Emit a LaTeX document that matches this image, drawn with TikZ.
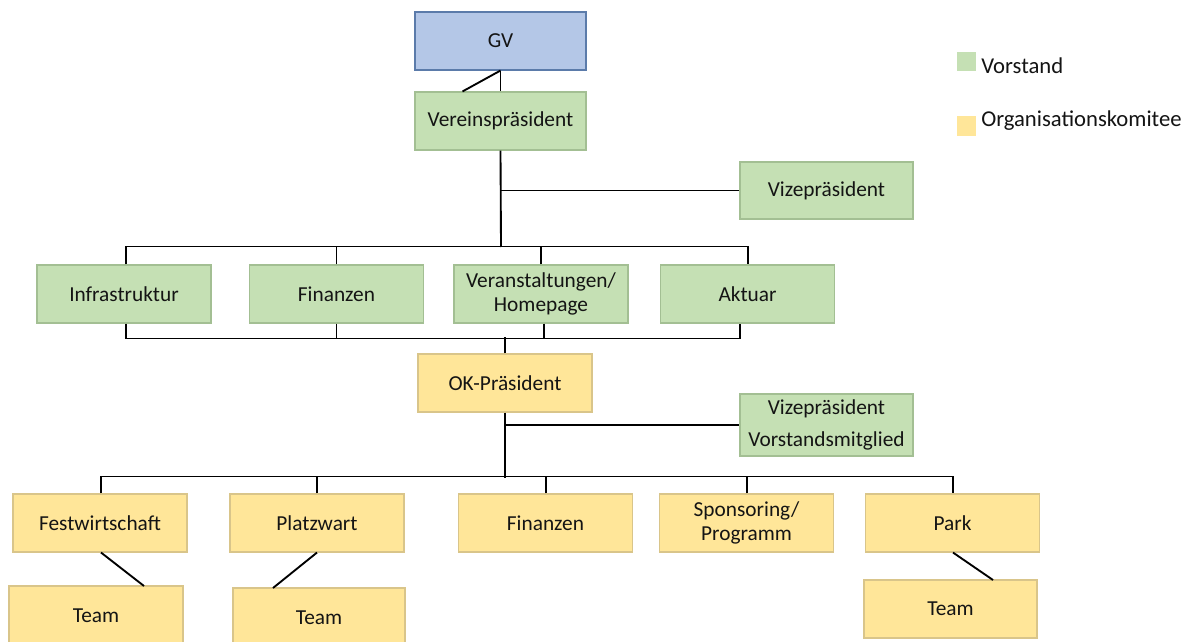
\documentclass[tikz,border=0pt]{standalone}
\usepackage{fontspec}
\setmainfont{Carlito}
\usetikzlibrary{calc}
\definecolor{gfill}{HTML}{C5E0B4}
\definecolor{gdraw}{HTML}{A3BF93}
\definecolor{yfill}{HTML}{FFE699}
\definecolor{ydraw}{HTML}{D9C58A}
\definecolor{bfill}{HTML}{B4C7E7}
\definecolor{bdraw}{HTML}{5B7BAA}
\definecolor{txt}{HTML}{141414}
\tikzset{
  box/.style={draw, line width=0.8pt, align=center, inner sep=0pt,
    text=txt, font=\fontsize{16}{17.5}\selectfont, minimum width=130.5pt, minimum height=43.5pt},
  gbox/.style={box, fill=gfill, draw=gdraw},
  ybox/.style={box, fill=yfill, draw=ydraw},
  bbox/.style={box, fill=bfill, draw=bdraw},
  conn/.style={draw=black, line width=1.4pt},
  legtxt/.style={anchor=west, inner sep=0pt, text=txt, font=\fontsize{17}{19}\selectfont},
}
\begin{document}
\begin{tikzpicture}[x=0.75pt,y=-0.75pt]
\clip (0,0) rectangle (1183,642);
\fill[white] (0,0) rectangle (1183,642);
% nodes
\node[bbox, minimum width=128.25pt] (gv) at (500.5,41) {GV};
\node[gbox, minimum width=128.25pt] (vp) at (500.5,121) {Vereinspräsident};
\node[gbox, minimum width=129.75pt, minimum height=42.75pt] (vize) at (826.5,190.5) {Vizepräsident};
\node[gbox] (infra) at (124,294) {Infrastruktur};
\node[gbox] (fin1) at (336.5,294) {Finanzen};
\node[gbox] (veran) at (541,294) {Veranstaltungen/\\Homepage};
\node[gbox] (akt) at (747.5,294) {Aktuar};
\node[ybox] (ok) at (505,383) {OK-Präsident};
\node[gbox, minimum width=129.75pt, minimum height=46.5pt, font=\fontsize{16}{23.5}\selectfont] (vize2) at (826.5,425) {Vizepräsident\\Vorstandsmitglied};
\node[ybox] (fest) at (100,523) {Festwirtschaft};
\node[ybox] (platz) at (317,523) {Platzwart};
\node[ybox] (fin2) at (545.5,523) {Finanzen};
\node[ybox] (spons) at (746.5,523) {Sponsoring/\\Programm};
\node[ybox] (park) at (952.5,523) {Park};
\node[ybox, minimum height=45pt] (team1) at (96,616) {Team};
\node[ybox, minimum width=129pt, minimum height=45pt] (team2) at (319,618) {Team};
\node[ybox, minimum width=129.75pt] (team3) at (950.5,609) {Team};
% legend
\node[fill=gfill, minimum width=14pt, minimum height=14.5pt, inner sep=0pt] (lg) at (966.5,61.5) {};
\node[legtxt] (lgt) at (981,66) {Vorstand};
\node[fill=yfill, minimum width=14pt, minimum height=15pt, inner sep=0pt] (ly) at (966.5,126.5) {};
\node[legtxt] (lyt) at (981,121) {Organisationskomitee};
% connectors
\coordinate (vpd) at ($(vp.north)+(-38,0)$);
\draw[conn] (gv.south) -- (vp.north);
\draw[conn] (gv.south) -- (vpd);
\coordinate (bus1) at (501,247);
\draw[conn] (vp.south) -- (bus1);
\draw[conn] (vp.south |- vize.west) -- (vize.west);
\draw[conn] ($(infra.north)+(2,0)$) -- ++(0,-18) -| ($(akt.north)+(0.5,0)$);
\draw[conn] (fin1.north) -- ++(0,-18);
\draw[conn] (veran.north) -- ++(0,-18);
\draw[conn] ($(infra.south)+(2,0)$) -- ++(0,15) -| ($(akt.south)+(-7.5,0)$);
\draw[conn] (fin1.south) -- ++(0,15);
\draw[conn] ($(veran.south)+(3,0)$) -- ++(0,15);
\draw[conn] (ok.north) -- ++(0,-16);
\coordinate (bus2) at (505,478);
\draw[conn] (ok.south) -- (bus2);
\draw[conn] (ok.south |- vize2.west) -- (vize2.west);
\draw[conn] ($(fest.north)+(1,0)$) -- ++(0,-17) -| ($(park.north)+(0.5,0)$);
\draw[conn] (platz.north) -- ++(0,-17);
\draw[conn] ($(fin2.north)+(0.5,0)$) -- ++(0,-17);
\draw[conn] ($(spons.north)+(0.5,0)$) -- ++(0,-17);
\coordinate (t1) at (144,586);
\coordinate (t2) at (273,588);
\coordinate (t3) at (993,580);
\draw[conn] ($(fest.south)+(1,0)$) -- (t1);
\draw[conn] (platz.south) -- (t2);
\draw[conn] ($(park.south)+(0.5,0)$) -- (t3);
\end{tikzpicture}
\end{document}
